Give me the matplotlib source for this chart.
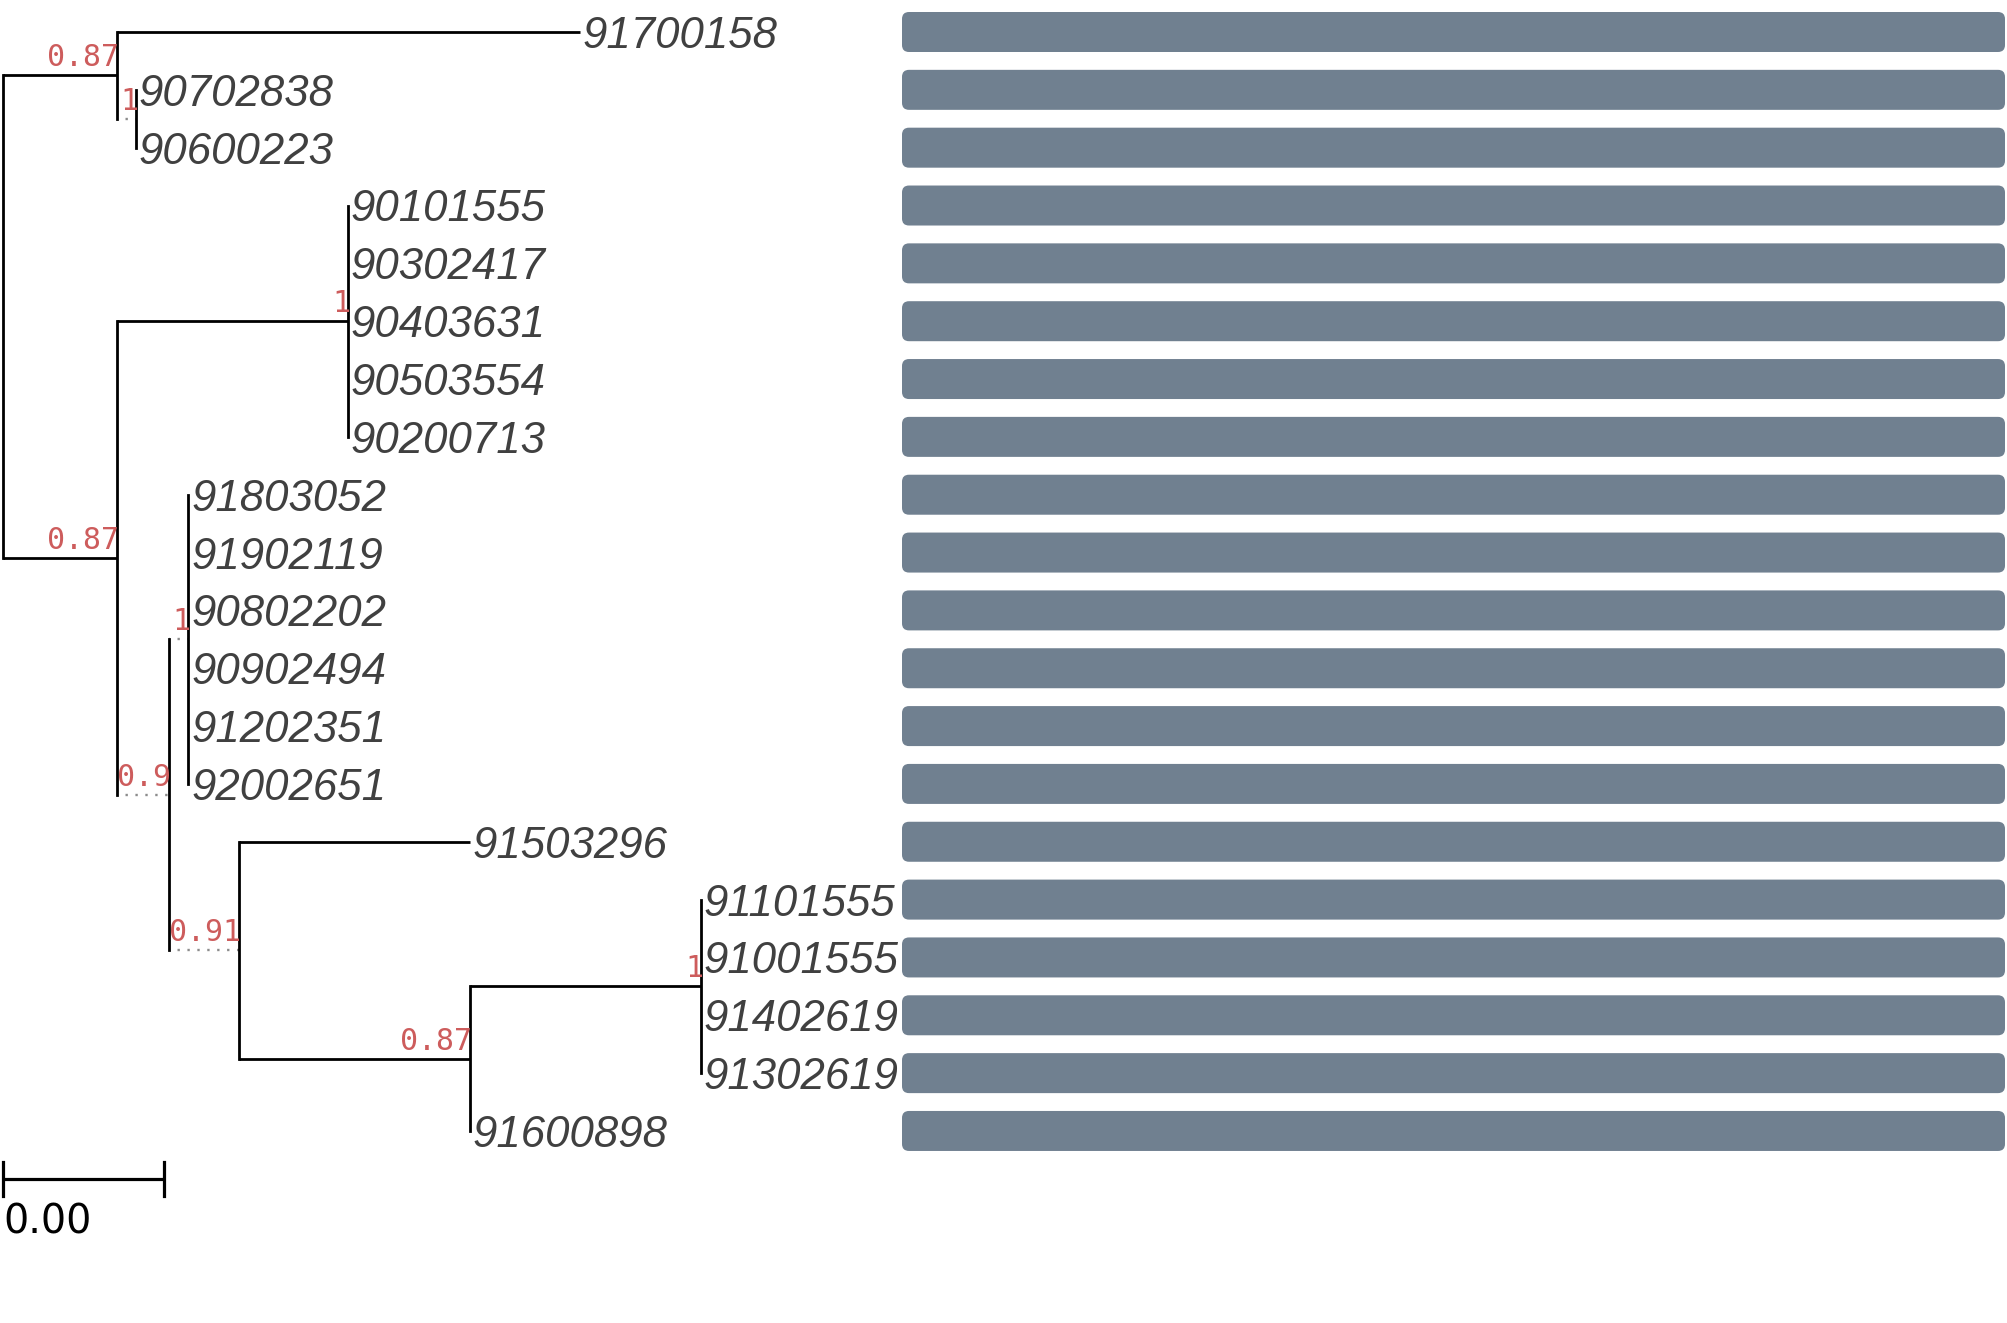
import matplotlib.pyplot as plt
from matplotlib.patches import FancyBboxPatch

# tips, top to bottom
tip_names = ["91700158", "90702838", "90600223", "90101555", "90302417",
             "90403631", "90503554", "90200713", "91803052", "91902119",
             "90802202", "90902494", "91202351", "92002651", "91503296",
             "91101555", "91001555", "91402619", "91302619", "91600898"]
tip_parent = ["A", "subA", "subA", "B1", "B1", "B1", "B1", "B1",
              "B2a", "B2a", "B2a", "B2a", "B2a", "B2a", "B2b",
              "C4", "C4", "C4", "C4", "C"]
tip_length = [0.0115, 0, 0, 0, 0, 0, 0, 0,
              0, 0, 0, 0, 0, 0, 0.00574,
              0, 0, 0, 0, 0]
bar_values = [1.0, 1.0, 1.0, 1.0, 1.0, 1.0, 1.0, 1.0, 1.0, 1.0,
              1.0, 1.0, 1.0, 1.0, 1.0, 1.0, 1.0, 1.0, 1.0, 1.0]

# internal nodes (parents listed before children)
node_names = ["root", "A", "subA", "B", "B1", "B2", "B2a", "B2b", "C", "C4"]
node_parent = [None, "root", "A", "root", "B", "B", "B2", "B2", "B2b", "C"]
node_length = [0.0, 0.00283, 0.00047, 0.00283, 0.00574, 0.00129, 0.00048,
               0.00174, 0.00574, 0.00574]
node_support = ["", "0.87", "1", "0.87", "1", "0.9", "1", "0.91", "0.87", "1"]
dotted_nodes = ["subA", "B2", "B2a", "B2b"]

scale_len = 0.004
scale_label = "0.00"

W, H = 2007, 1323
row_px = 57.84
top_px = 32
u = scale_len / 161  # data units per pixel

fig = plt.figure(figsize=(W / 100, H / 100), dpi=100)
ax = fig.add_axes([0, 0, 1, 1])
ax.set_xlim(-3 * u, (W - 3) * u)
ax.set_ylim((H - top_px) / row_px, -top_px / row_px)
ax.axis("off")

# layout
nx = {}
for n, p, l in zip(node_names, node_parent, node_length):
    nx[n] = (nx[p] if p else 0.0) + l
tx = [nx[p] + l for p, l in zip(tip_parent, tip_length)]
ty = list(range(len(tip_names)))

kids = {n: [] for n in node_names}
for i, p in enumerate(tip_parent):
    kids[p].append(("t", i))
for n, p in zip(node_names, node_parent):
    if p:
        kids[p].append(("n", n))
ny = {}
for n in reversed(node_names):
    ys = [ty[k] if t == "t" else ny[k] for t, k in kids[n]]
    ny[n] = sum(ys) / len(ys)

lw = 2.0
# horizontal branches
for n, p in zip(node_names, node_parent):
    if p is None:
        continue
    if n in dotted_nodes:
        ax.plot([nx[p], nx[n]], [ny[n], ny[n]], color="#8c8c8c", lw=1.7,
                ls=(0.6, (1, 3.2)), solid_capstyle="butt")
    else:
        ax.plot([nx[p], nx[n]], [ny[n], ny[n]], color="black", lw=lw,
                solid_capstyle="butt")
for i, p in enumerate(tip_parent):
    if tip_length[i] > 0:
        ax.plot([nx[p], tx[i]], [ty[i], ty[i]], color="black", lw=lw,
                solid_capstyle="butt")
# vertical connectors
for n in node_names:
    ys = [ty[k] if t == "t" else ny[k] for t, k in kids[n]]
    ax.plot([nx[n], nx[n]], [min(ys), max(ys)], color="black", lw=lw,
            solid_capstyle="projecting")

# support values
for n, s in zip(node_names, node_support):
    if s:
        ax.annotate(s, (nx[n], ny[n]), xytext=(1.5, 6.5), textcoords="offset points",
                    ha="right", va="baseline", color="#cd5c5c", fontsize=21.5,
                    family="DejaVu Sans Mono")

# tip labels
for i, name in enumerate(tip_names):
    ax.annotate(name, (tx[i], ty[i]), xytext=(2.2, -11.5), textcoords="offset points",
                ha="left", va="baseline", color="#404040", fontsize=31.5,
                style="italic", family="Liberation Sans")

# scale bar
sb_y = (1179 - top_px) / row_px
tick = 17 / row_px
ax.plot([0, scale_len], [sb_y, sb_y], color="black", lw=2.3, solid_capstyle="butt")
ax.plot([0, 0], [sb_y - tick, sb_y + tick], color="black", lw=2.3)
ax.plot([scale_len, scale_len], [sb_y - tick, sb_y + tick], color="black", lw=2.3)
ax.text(0, (1233 - top_px) / row_px, scale_label, ha="left", va="baseline",
        fontsize=28.5, family="DejaVu Sans", color="black")

# bar panel
bx = fig.add_axes([902 / W, 0, 1103 / W, 1])
bx.set_xlim(0, 1)
bx.set_ylim(ax.get_ylim())
bx.axis("off")
bar_h = 40 / row_px
aspect = 1103 / row_px
for i, v in enumerate(bar_values):
    bx.add_patch(FancyBboxPatch((0, i - bar_h / 2), v, bar_h,
                                boxstyle="round,pad=0,rounding_size=%f" % (7 / 1103),
                                mutation_aspect=aspect, fc="#708090", ec="none"))

fig.savefig("out.png", dpi=100)
